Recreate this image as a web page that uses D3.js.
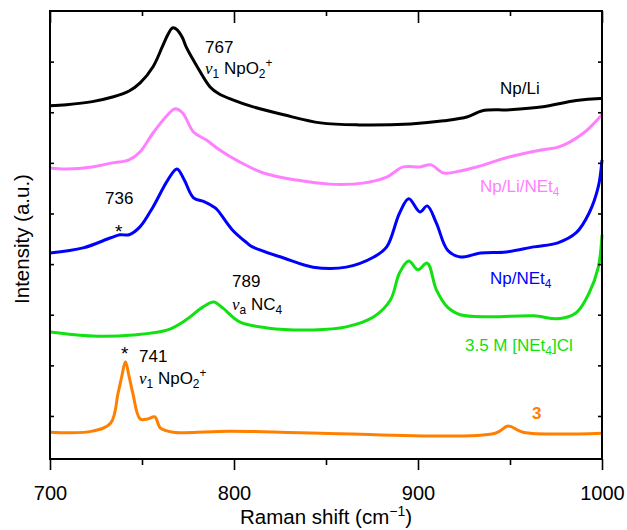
<!DOCTYPE html>
<html>
<head>
<meta charset="utf-8">
<script src="https://cdn.jsdelivr.net/npm/d3@7"></script>
<style>
  body { margin: 0; background: #fff; }
  svg { font-family: "Liberation Sans", Arial, sans-serif; }
</style>
</head>
<body>
<svg width="627" height="530"></svg>
<script>
// Raman spectra (shift in cm-1, intensity in a.u. with stacking offsets)
var npLiShift = [700, 709, 723, 734, 743, 749, 756, 761, 764, 766, 767, 769, 772, 774, 780, 787, 792, 799, 810, 827, 847, 868, 896, 914, 927, 935, 950, 968, 986, 999, 1000];
var npLiInt   = [6.13, 6.15, 6.21, 6.30, 6.42, 6.58, 6.90, 7.29, 7.53, 7.65, 7.67, 7.63, 7.47, 7.29, 6.90, 6.50, 6.36, 6.25, 6.11, 5.95, 5.79, 5.75, 5.77, 5.83, 5.91, 6.03, 6.05, 6.11, 6.23, 6.27, 6.27];

var npLiNEtShift = [700, 709, 723, 734, 743, 749, 756, 764, 768, 772, 778, 785, 792, 803, 816, 834, 852, 870, 883, 892, 901, 907, 914, 923, 932, 950, 968, 977, 990, 999, 1000];
var npLiNEtInt   = [4.90, 4.88, 4.92, 5.00, 5.06, 5.22, 5.59, 5.95, 6.07, 5.99, 5.61, 5.45, 5.26, 5.02, 4.80, 4.66, 4.58, 4.60, 4.72, 4.92, 4.92, 4.96, 4.80, 4.84, 4.92, 5.12, 5.26, 5.32, 5.59, 5.91, 5.95];

var npNEtShift = [700, 718, 733, 738, 743, 749, 756, 764, 769, 773, 778, 784, 789, 791, 799, 807, 810, 827, 843, 861, 876, 883, 890, 895, 901, 905, 910, 916, 923, 934, 948, 963, 976, 986, 993, 998, 1000];
var npNEtInt   = [3.22, 3.32, 3.52, 3.58, 3.58, 3.74, 4.13, 4.66, 4.88, 4.66, 4.31, 4.23, 4.13, 4.07, 3.68, 3.42, 3.34, 3.12, 2.94, 2.94, 3.14, 3.34, 4.01, 4.29, 4.03, 4.15, 3.81, 3.28, 3.14, 3.22, 3.24, 3.34, 3.42, 3.62, 4.01, 4.53, 5.06];

var netClShift = [700, 723, 745, 764, 774, 783, 789, 794, 803, 818, 843, 861, 876, 885, 890, 895, 900, 905, 910, 916, 923, 939, 963, 976, 986, 993, 998, 1000];
var netClInt   = [1.66, 1.58, 1.60, 1.70, 1.90, 2.15, 2.25, 2.13, 1.86, 1.74, 1.70, 1.76, 1.96, 2.29, 2.83, 3.06, 2.89, 3.02, 2.49, 2.15, 2.00, 1.96, 1.98, 1.92, 2.04, 2.43, 2.94, 3.58];

var cmpd3Shift = [700, 723, 733, 737, 739, 741, 743, 745, 749, 753, 757, 760, 767, 798, 847, 942, 949, 957, 1000];
var cmpd3Int   = [-0.32, -0.30, -0.14, 0.45, 0.78, 1.07, 0.78, 0.45, -0.06, -0.06, -0.02, -0.24, -0.32, -0.30, -0.34, -0.34, -0.20, -0.32, -0.34];

var seriesNames  = ["Np/Li", "Np/Li/NEt4", "Np/NEt4", "3.5 M [NEt4]Cl", "3"];
var seriesColors = ["#000000", "#ff80ff", "#0000ff", "#11e011", "#ff8000"];

var xMajor = [700, 800, 900, 1000];
var xMinor = [750, 850, 950];
var yTicks = [0, 1, 2, 3, 4, 5, 6, 7];

var svg = d3.select("svg"),
	margin = {top: 11, right: 25, bottom: 71, left: 50},
	width = 627 - margin.left - margin.right,
	height = 530 - margin.top - margin.bottom,
	g = svg.append("g").attr("transform", "translate(" + margin.left + "," + margin.top + ")");

var x = d3.scaleLinear().domain([700, 1000]).range([0, width]);
var y = d3.scaleLinear().domain([-0.85, 8.0]).range([height, 0]);

var series = [
	{shift: npLiShift, int: npLiInt},
	{shift: npLiNEtShift, int: npLiNEtInt},
	{shift: npNEtShift, int: npNEtInt},
	{shift: netClShift, int: netClInt},
	{shift: cmpd3Shift, int: cmpd3Int}
].map(function(s, i) {
	return {name: seriesNames[i], color: seriesColors[i],
		points: s.shift.map(function(v, j) { return [v, s.int[j]]; })};
});

var line = d3.line()
	.x(function(d) { return x(d[0]); })
	.y(function(d) { return y(d[1]); })
	.curve(d3.curveCatmullRom.alpha(0.5));

g.selectAll(".spec")
	.data(series)
	.enter().append("path")
		.attr("class", "spec")
		.attr("fill", "none")
		.attr("stroke", function(d) { return d.color; })
		.attr("stroke-width", 3)
		.attr("stroke-linejoin", "round")
		.attr("d", function(d) { return line(d.points); });

// axes
function styleAxis(sel) {
	sel.select(".domain").remove();
	sel.selectAll("line").attr("stroke", "#000").attr("stroke-width", 1.6);
}

g.append("g")
	.attr("transform", "translate(0," + height + ")")
	.call(d3.axisBottom(x).tickValues(xMajor).tickSize(11).tickPadding(16).tickFormat(d3.format("d")))
	.call(styleAxis)
	.selectAll("text")
		.attr("font-size", 20)
		.attr("font-family", "Liberation Sans, Arial, sans-serif")
		.attr("fill", "#000");

g.append("g")
	.attr("transform", "translate(0," + height + ")")
	.call(d3.axisBottom(x).tickValues(xMinor).tickSize(6).tickFormat(""))
	.call(styleAxis);

g.append("g")
	.call(d3.axisTop(x).tickValues(xMajor).tickSize(-12).tickFormat(""))
	.call(styleAxis);

g.append("g")
	.call(d3.axisTop(x).tickValues(xMinor).tickSize(-5).tickFormat(""))
	.call(styleAxis);

g.append("g")
	.call(d3.axisLeft(y).tickValues(yTicks).tickSize(-4).tickFormat(""))
	.call(styleAxis);

g.append("g")
	.attr("transform", "translate(" + width + ",0)")
	.call(d3.axisRight(y).tickValues(yTicks).tickSize(-4).tickFormat(""))
	.call(styleAxis);

g.append("rect")
	.attr("width", width)
	.attr("height", height)
	.attr("fill", "none")
	.attr("stroke", "#000")
	.attr("stroke-width", 2);

// axis titles
var xt = svg.append("text")
	.attr("x", margin.left + width / 2)
	.attr("y", 524)
	.attr("text-anchor", "middle")
	.attr("font-size", 20.5);
xt.append("tspan").text("Raman shift (cm");
xt.append("tspan").attr("font-size", 14).attr("dy", -8).text("\u22121");
xt.append("tspan").attr("dy", 8).text(")");

svg.append("text")
	.attr("transform", "translate(29,239) rotate(-90)")
	.attr("text-anchor", "middle")
	.attr("font-size", 20.5)
	.text("Intensity (a.u.)");

// labels: parts are [text, kind], kind: "" normal, "sub", "sup", "nu"
function label(px, py, parts, color, size, weight) {
	var t = svg.append("text")
		.attr("x", px).attr("y", py)
		.attr("fill", color)
		.attr("font-size", size)
		.attr("font-weight", weight || "normal");
	var shift = 0;
	parts.forEach(function(p) {
		var ts = t.append("tspan").text(p[0]);
		var want = 0;
		if (p[1] === "sub") { want = 4; ts.attr("font-size", size * 0.7); }
		else if (p[1] === "sup") { want = -7; ts.attr("font-size", size * 0.7); }
		else if (p[1] === "nu") { ts.attr("font-family", "Liberation Serif, Times New Roman, serif").attr("font-style", "italic"); }
		ts.attr("dy", want - shift);
		shift = want;
	});
}

var fs = 17;
label(205, 53, [["767", ""]], "#000", fs);
label(205, 74, [["\u03bd", "nu"], ["1", "sub"], [" NpO", ""], ["2", "sub"], ["+", "sup"]], "#000", fs);
label(500, 94, [["Np/Li", ""]], seriesColors[0], fs);
label(480, 192, [["Np/Li/NEt", ""], ["4", "sub"]], seriesColors[1], fs);
label(105, 204, [["736", ""]], "#000", fs);
label(115, 238, [["*", ""]], "#000", 19);
label(490, 284, [["Np/NEt", ""], ["4", "sub"]], seriesColors[2], fs);
label(232, 287, [["789", ""]], "#000", fs);
label(232, 310, [["\u03bd", "nu"], ["a", "sub"], [" NC", ""], ["4", "sub"]], "#000", fs);
label(465, 351, [["3.5 M [NEt", ""], ["4", "sub"], ["]Cl", ""]], seriesColors[3], fs);
label(121, 360, [["*", ""]], "#000", 19);
label(139, 362, [["741", ""]], "#000", fs);
label(139, 384, [["\u03bd", "nu"], ["1", "sub"], [" NpO", ""], ["2", "sub"], ["+", "sup"]], "#000", fs);
label(532, 419, [["3", ""]], seriesColors[4], fs, "bold");
</script>
</body>
</html>
